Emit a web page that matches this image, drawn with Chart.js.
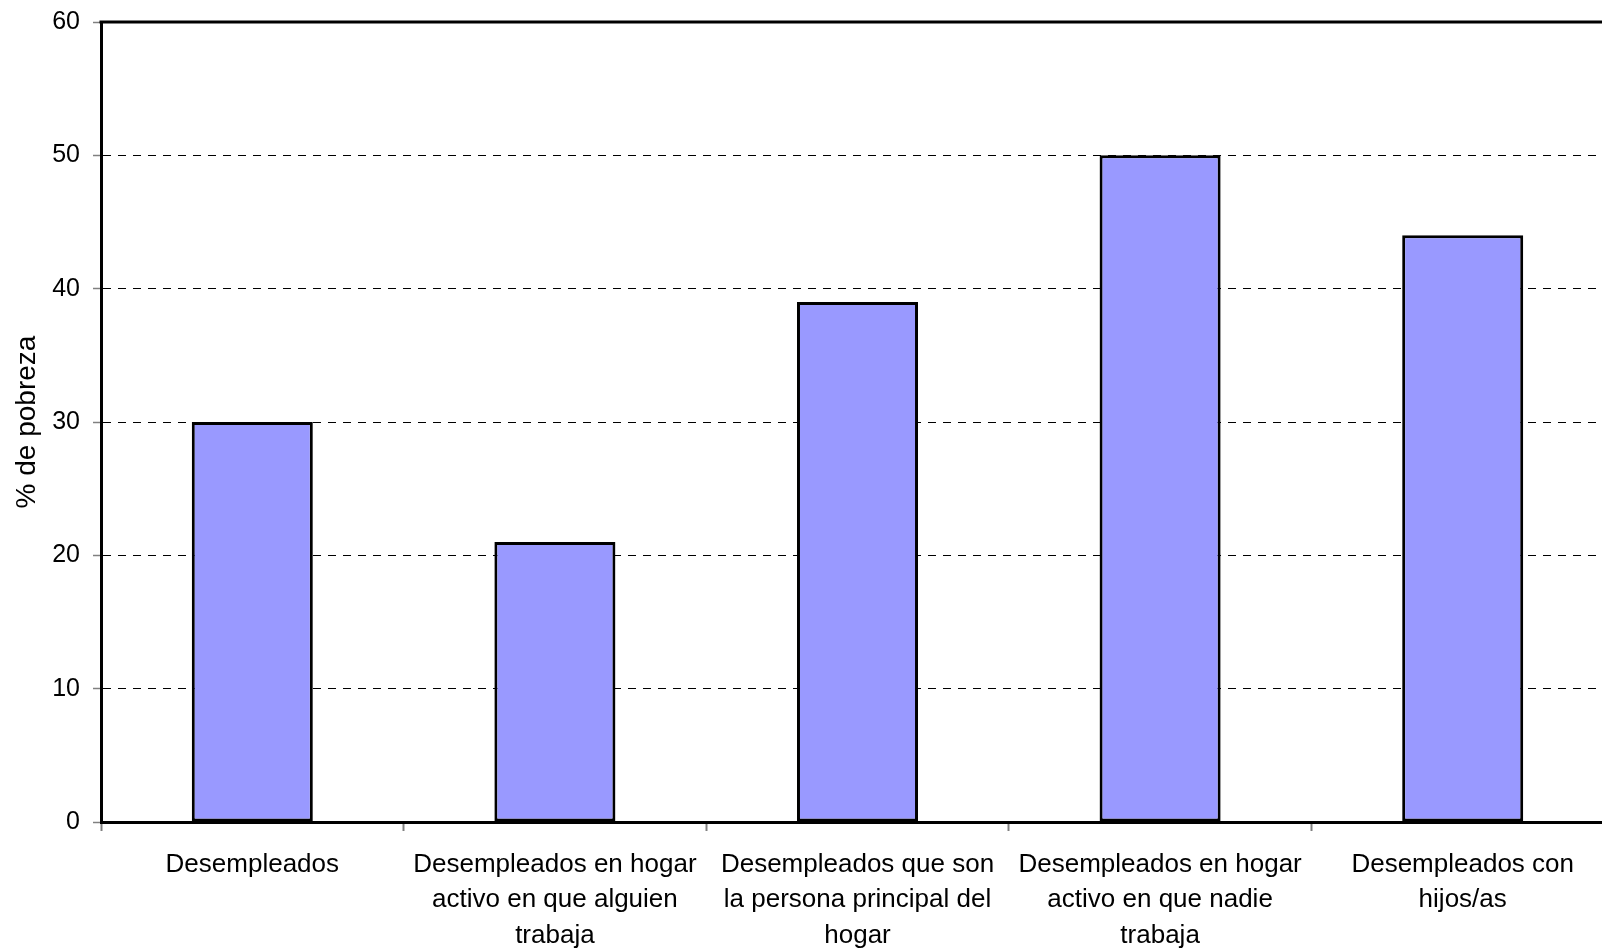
<!DOCTYPE html>
<html>
<head>
<meta charset="utf-8">
<script src="https://cdn.jsdelivr.net/npm/chart.js@4/dist/chart.umd.min.js"></script>
<style>
  html, body { margin: 0; padding: 0; background: #ffffff; overflow: hidden; }
  #wrap { position: relative; width: 1614px; height: 948px; }
</style>
</head>
<body>
<div id="wrap"><canvas id="c"></canvas></div>
<script>
const categories = [
  ["Desempleados"],
  ["Desempleados en hogar", "activo en que alguien", "trabaja"],
  ["Desempleados que son", "la persona principal del", "hogar"],
  ["Desempleados en hogar", "activo en que nadie", "trabaja"],
  ["Desempleados con", "hijos/as"]
];
const povertyValues = [30, 21, 39, 50, 44];
const yTicks = [0, 10, 20, 30, 40, 50, 60];
const yTitle = "% de pobreza";

const FONT = "'Liberation Sans', Arial, sans-serif";

const topFrame = {
  id: 'topFrame',
  afterDatasetsDraw(chart) {
    const { ctx, chartArea } = chart;
    ctx.save();
    ctx.strokeStyle = '#000000';
    ctx.lineWidth = 3;
    ctx.beginPath();
    ctx.moveTo(chartArea.left - 1.5, chartArea.top);
    ctx.lineTo(chartArea.right, chartArea.top);
    ctx.stroke();
    ctx.restore();
  }
};

new Chart(document.getElementById('c'), {
  type: 'bar',
  data: {
    labels: categories,
    datasets: [{
      data: povertyValues,
      backgroundColor: '#9999FF',
      borderColor: '#000000',
      borderWidth: 3,
      borderSkipped: false,
      barPercentage: 0.4,
      categoryPercentage: 1.0
    }]
  },
  options: {
    responsive: true,
    maintainAspectRatio: false,
    animation: false,
    layout: { padding: { top: 22, left: 0, right: 0, bottom: 0 } },
    plugins: {
      legend: { display: false },
      tooltip: { enabled: false }
    },
    scales: {
      x: {
        offset: true,
        afterFit: (s) => { s.height = 126; s.paddingLeft = 0; s.paddingRight = 0; },
        grid: {
          offset: true,
          drawOnChartArea: false,
          drawTicks: true,
          tickLength: 9,
          tickColor: '#808080',
          tickWidth: 2
        },
        border: { display: true, color: '#000000', width: 3 },
        ticks: {
          color: '#000000',
          font: { family: FONT, size: 26, lineHeight: 1.36 },
          padding: 16,
          maxRotation: 0,
          minRotation: 0,
          autoSkip: false
        }
      },
      y: {
        min: 0,
        max: 60,
        afterFit: (s) => { s.width = 101; s.paddingTop = 0; s.paddingBottom = 0; },
        afterBuildTicks: (s) => { s.ticks = yTicks.map(v => ({ value: v })); },
        grid: {
          color: '#000000',
          lineWidth: 1,
          borderDash: [8, 7],
          drawTicks: true,
          tickLength: 8,
          tickColor: '#808080',
          tickWidth: 1.5,
          tickBorderDash: []
        },
        border: { display: true, color: '#000000', width: 3, dash: [8, 7] },
        ticks: {
          color: '#000000',
          font: { family: FONT, size: 25 },
          padding: 13
        },
        title: {
          display: true,
          text: yTitle,
          color: '#000000',
          font: { family: FONT, size: 28, lineHeight: 1.2 },
          padding: { top: 10, bottom: 0 }
        }
      }
    }
  },
  plugins: [topFrame]
});
</script>
</body>
</html>
